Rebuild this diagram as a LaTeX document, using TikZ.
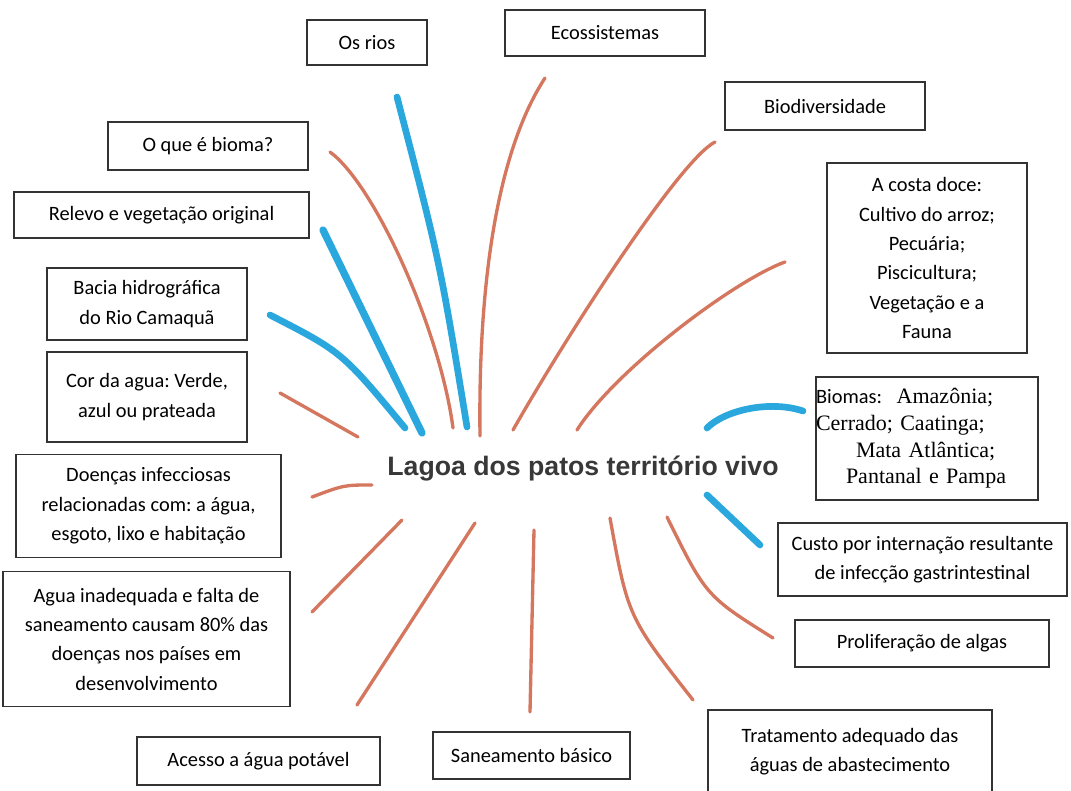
\documentclass[tikz,border=0pt]{standalone}
\usepackage{fontspec}
\setmainfont{Carlito}
\newfontfamily\timesfont{Liberation Serif}
\newfontfamily\arialfont{Liberation Sans}
\frenchspacing
\definecolor{azul}{HTML}{2AA8DE}
\definecolor{laranja}{HTML}{D4775E}
\definecolor{borda}{HTML}{333333}
\tikzset{
  box/.style={draw=borda, line width=0.9pt, align=center, inner sep=2pt,
    font=\fontsize{15.3}{22}\selectfont},
  bluestroke/.style={azul, line width=5pt, line cap=round},
  redstroke/.style={laranja, line width=2.5pt, line cap=round},
}

\begin{document}
\begin{tikzpicture}[x=0.75pt,y=-0.75pt]
\useasboundingbox (0,0) rectangle (1071,791);

\node[font=\arialfont\bfseries\fontsize{20}{24}\selectfont, text=black!78, anchor=base] (lagoa) at (583,475) {Lagoa dos patos território vivo};

\node[box, minimum width=90pt, minimum height=33.75pt] (rios) at (367,42.5) {Os rios};
\node[box, minimum width=150pt, minimum height=34.5pt] (eco) at (605,33) {Ecossistemas};
\node[box, minimum width=150pt, minimum height=36pt] (biodiv) at (825,106) {Biodiversidade};
\node[box, minimum width=150pt, minimum height=36pt] (bioma) at (208,146) {O que é bioma?};
\node[box, minimum width=221.25pt, minimum height=34.5pt] (relevo) at (161.5,215) {Relevo e vegetação original};
\node[box, minimum width=150pt, minimum height=54pt] (bacia) at (147,304) {Bacia hidrográfica\\do Rio Camaquã};
\node[box, minimum width=150pt, minimum height=67.5pt] (cor) at (147,397) {Cor da agua: Verde,\\azul ou prateada};
\node[box, minimum width=150pt, minimum height=142.5pt] (costa) at (927,258) {A costa doce:\\Cultivo do arroz;\\Pecuária;\\Piscicultura;\\Vegetação e a\\Fauna};
\node[box, text width=166.5pt, minimum height=92.25pt, inner xsep=0pt, align=left,
  font=\timesfont\fontsize{16.5}{20}\selectfont] (biomas) at (927,438.5)
  {{\rmfamily\fontsize{15.3}{20}\selectfont Biomas:}\ \ Amazônia;\\Cerrado; Caatinga;\\\hspace*{30pt}Mata Atlântica;\\\hspace*{22.5pt}Pantanal e Pampa};
\node[box, minimum width=198.75pt, minimum height=77.25pt] (doencas) at (148.5,506) {Doenças infecciosas\\relacionadas com: a água,\\esgoto, lixo e habitação};
\node[box, minimum width=215.25pt, minimum height=101.25pt] (agua) at (146.5,639) {Agua inadequada e falta de\\saneamento causam 80\% das\\doenças nos países em\\desenvolvimento};
\node[box, minimum width=216.75pt, minimum height=54.75pt] (custo) at (922.5,559.5) {Custo por internação resultante\\de infecção gastrintestinal};
\node[box, minimum width=190.5pt, minimum height=35.25pt] (algas) at (922,643.5) {Proliferação de algas};
\node[box, minimum width=213pt, minimum height=63pt] (trat) at (850,752) {Tratamento adequado das\\águas de abastecimento};
\node[box, minimum width=182.25pt, minimum height=36pt] (acesso) at (258.5,761) {Acesso a água potável};
\node[box, minimum width=147.75pt, minimum height=35.25pt] (sanea) at (531.5,755.5) {Saneamento básico};

\coordinate (riosA) at (397,97);     \coordinate (riosB) at (467,427);
\coordinate (relevoA) at (323,230);  \coordinate (relevoB) at (422,433);
\coordinate (baciaA) at (270,315);   \coordinate (baciaB) at (405,428);
\coordinate (biomasA) at (707,428);  \coordinate (biomasB) at (803,411);
\coordinate (custoA) at (707,495);   \coordinate (custoB) at (760,545);
\coordinate (biomaA) at (330,152);   \coordinate (biomaB) at (453,428);
\coordinate (ecoA) at (545,78);      \coordinate (ecoB) at (480,436);
\coordinate (biodivA) at (715,142);  \coordinate (biodivB) at (513,430);
\coordinate (costaA) at (785,262);   \coordinate (costaB) at (577,430);
\coordinate (corA) at (280,393);     \coordinate (corB) at (358,437);
\coordinate (doencasA) at (312,497); \coordinate (doencasB) at (372,485);
\coordinate (aguaA) at (312,612);    \coordinate (aguaB) at (402,520);
\coordinate (acessoA) at (357,705);  \coordinate (acessoB) at (475,523);
\coordinate (saneaA) at (530,712);   \coordinate (saneaB) at (534,530);
\coordinate (tratA) at (693,700);    \coordinate (tratB) at (610,518);
\coordinate (algasA) at (773,638);   \coordinate (algasB) at (667,517);

\draw[bluestroke] (riosA) .. controls (440,262) .. (riosB);
\draw[bluestroke, line width=5.5pt] (relevoA) -- (relevoB);
\draw[bluestroke] (baciaA) .. controls (342,352) .. (baciaB);
\draw[bluestroke] (biomasA) .. controls (725,410) and (770,400) .. (biomasB);
\draw[bluestroke] (custoA) -- (custoB);

\draw[redstroke] (biomaA) .. controls (375,185) and (440,330) .. (biomaB);
\draw[redstroke] (ecoA) .. controls (498,150) and (478,280) .. (ecoB);
\draw[redstroke] (biodivA) .. controls (680,160) and (570,330) .. (biodivB);
\draw[redstroke] (costaA) .. controls (735,280) and (615,370) .. (costaB);
\draw[redstroke] (corA) -- (corB);
\draw[redstroke] (doencasA) .. controls (344,485) .. (doencasB);
\draw[redstroke] (aguaA) -- (aguaB);
\draw[redstroke] (acessoA) -- (acessoB);
\draw[redstroke] (saneaA) -- (saneaB);
\draw[redstroke] (tratA) .. controls (628,617) .. (tratB);
\draw[redstroke] (algasA) .. controls (706,596) .. (algasB);
\end{tikzpicture}
\end{document}
